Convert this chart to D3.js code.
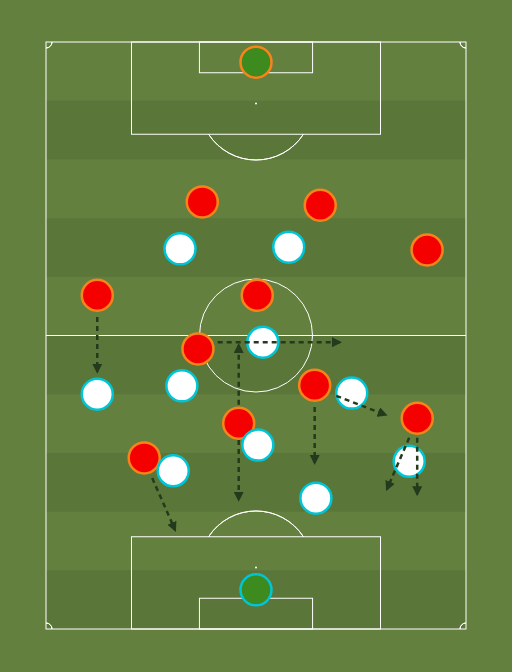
<!DOCTYPE html><html><head><meta charset="utf-8">
<script src="https://cdn.jsdelivr.net/npm/d3@7"></script>
<style>body{margin:0;background:#63803f}</style></head><body>
<svg id="c" width="512" height="672"></svg>
<script>
// Pitch units in metres (68 wide x 105 long)
const redPlayers=[[25.3,28.6],[44.4,29.2],[61.7,37.2],[8.3,45.3],[34.2,45.3],[24.6,54.9],[43.5,61.4],[60.1,67.3],[31.2,68.2],[15.9,74.4]];
const whitePlayers=[[21.7,37.0],[39.3,36.7],[35.1,53.7],[8.3,63.0],[22.0,61.5],[49.5,62.8],[34.3,72.1],[20.6,76.7],[58.8,75.0],[43.7,81.6]];
const keepers=[{p:[34,3.6],team:"red"},{p:[34,98.0],team:"white"}];
const arrows=[[[8.3,49.2],[8.3,59.0]],[[27.8,53.7],[47.6,53.7]],[[31.2,64.9],[31.2,54.2]],[[31.2,71.2],[31.2,81.9]],[[43.5,65.3],[43.5,75.3]],[[47.0,63.3],[55.0,66.7]],[[58.8,70.8],[55.2,80.0]],[[60.1,70.8],[60.1,80.9]],[[17.2,78.0],[20.9,87.3]]];
const svg=d3.select("#c");
const x=d3.scaleLinear().domain([0,68]).range([46,466]);
const y=d3.scaleLinear().domain([0,105]).range([42,629]);
const k=x(1)-x(0);
svg.append("rect").attr("width",512).attr("height",672).attr("fill","#63803f");
d3.range(10).forEach(i=>{if(i%2)svg.append("rect").attr("x",x(0)).attr("y",y(i*10.5)).attr("width",x(68)-x(0)).attr("height",y(10.5)-y(0)).attr("fill","#5a7639");});
const g=svg.append("g").attr("fill","none").attr("stroke","#fff").attr("stroke-width",1);
g.append("rect").attr("x",x(0)).attr("y",y(0)).attr("width",x(68)-x(0)).attr("height",y(105)-y(0));
g.append("line").attr("x1",x(0)).attr("x2",x(68)).attr("y1",y(52.5)).attr("y2",y(52.5));
g.append("circle").attr("cx",x(34)).attr("cy",y(52.5)).attr("r",9.15*k);
[0,1].forEach(s=>{
 const ys=v=>s?y(105-v):y(v);
 const pb=[ys(0),ys(16.5)].sort((a,b)=>a-b), gb=[ys(0),ys(5.5)].sort((a,b)=>a-b);
 g.append("rect").attr("x",x(13.84)).attr("y",pb[0]).attr("width",x(54.16)-x(13.84)).attr("height",pb[1]-pb[0]);
 g.append("rect").attr("x",x(24.84)).attr("y",gb[0]).attr("width",x(43.16)-x(24.84)).attr("height",gb[1]-gb[0]);
 svg.append("circle").attr("cx",x(34)).attr("cy",ys(11)).attr("r",1).attr("fill","#fff");
 const r=9.15*k, dy=ys(16.5)-ys(11), a=Math.acos(Math.abs(dy)/r);
 const arc=d3.arc().innerRadius(r).outerRadius(r).startAngle(s?-a:Math.PI-a).endAngle(s?a:Math.PI+a);
 g.append("path").attr("d",arc()).attr("transform",`translate(${x(34)},${ys(11)})`);
});
[[0,0,Math.PI/2,Math.PI],[68,0,Math.PI,1.5*Math.PI],[0,105,0,Math.PI/2],[68,105,-Math.PI/2,0]].forEach(([cx,cy,s,e])=>{
 g.append("path").attr("d",d3.arc().innerRadius(6).outerRadius(6).startAngle(s).endAngle(e)()).attr("transform",`translate(${x(cx)},${y(cy)})`);
});
const R=15.5;
svg.selectAll(".r").data(redPlayers).join("circle").attr("cx",d=>x(d[0])).attr("cy",d=>y(d[1])).attr("r",R).attr("fill","#f50000").attr("stroke","#f7841a").attr("stroke-width",2.5);
svg.selectAll(".w").data(whitePlayers).join("circle").attr("cx",d=>x(d[0])).attr("cy",d=>y(d[1])).attr("r",R).attr("fill","#fff").attr("stroke","#00c5d6").attr("stroke-width",2.5);
svg.selectAll(".k").data(keepers).join("circle").attr("cx",d=>x(d.p[0])).attr("cy",d=>y(d.p[1])).attr("r",R).attr("fill","#3d8a1e").attr("stroke",d=>d.team=="red"?"#f7841a":"#00c5d6").attr("stroke-width",2.5);
svg.append("defs").append("marker").attr("id","ah").attr("viewBox","0 0 10 10").attr("refX",8).attr("refY",5).attr("markerWidth",4).attr("markerHeight",4).attr("orient","auto").append("path").attr("d","M0,0L10,5L0,10z").attr("fill","#243a1c");
svg.selectAll(".a").data(arrows).join("line").attr("x1",d=>x(d[0][0])).attr("y1",d=>y(d[0][1])).attr("x2",d=>x(d[1][0])).attr("y2",d=>y(d[1][1])).attr("stroke","#243a1c").attr("stroke-width",2.5).attr("stroke-dasharray","5,4").attr("marker-end","url(#ah)");
</script></body></html>
